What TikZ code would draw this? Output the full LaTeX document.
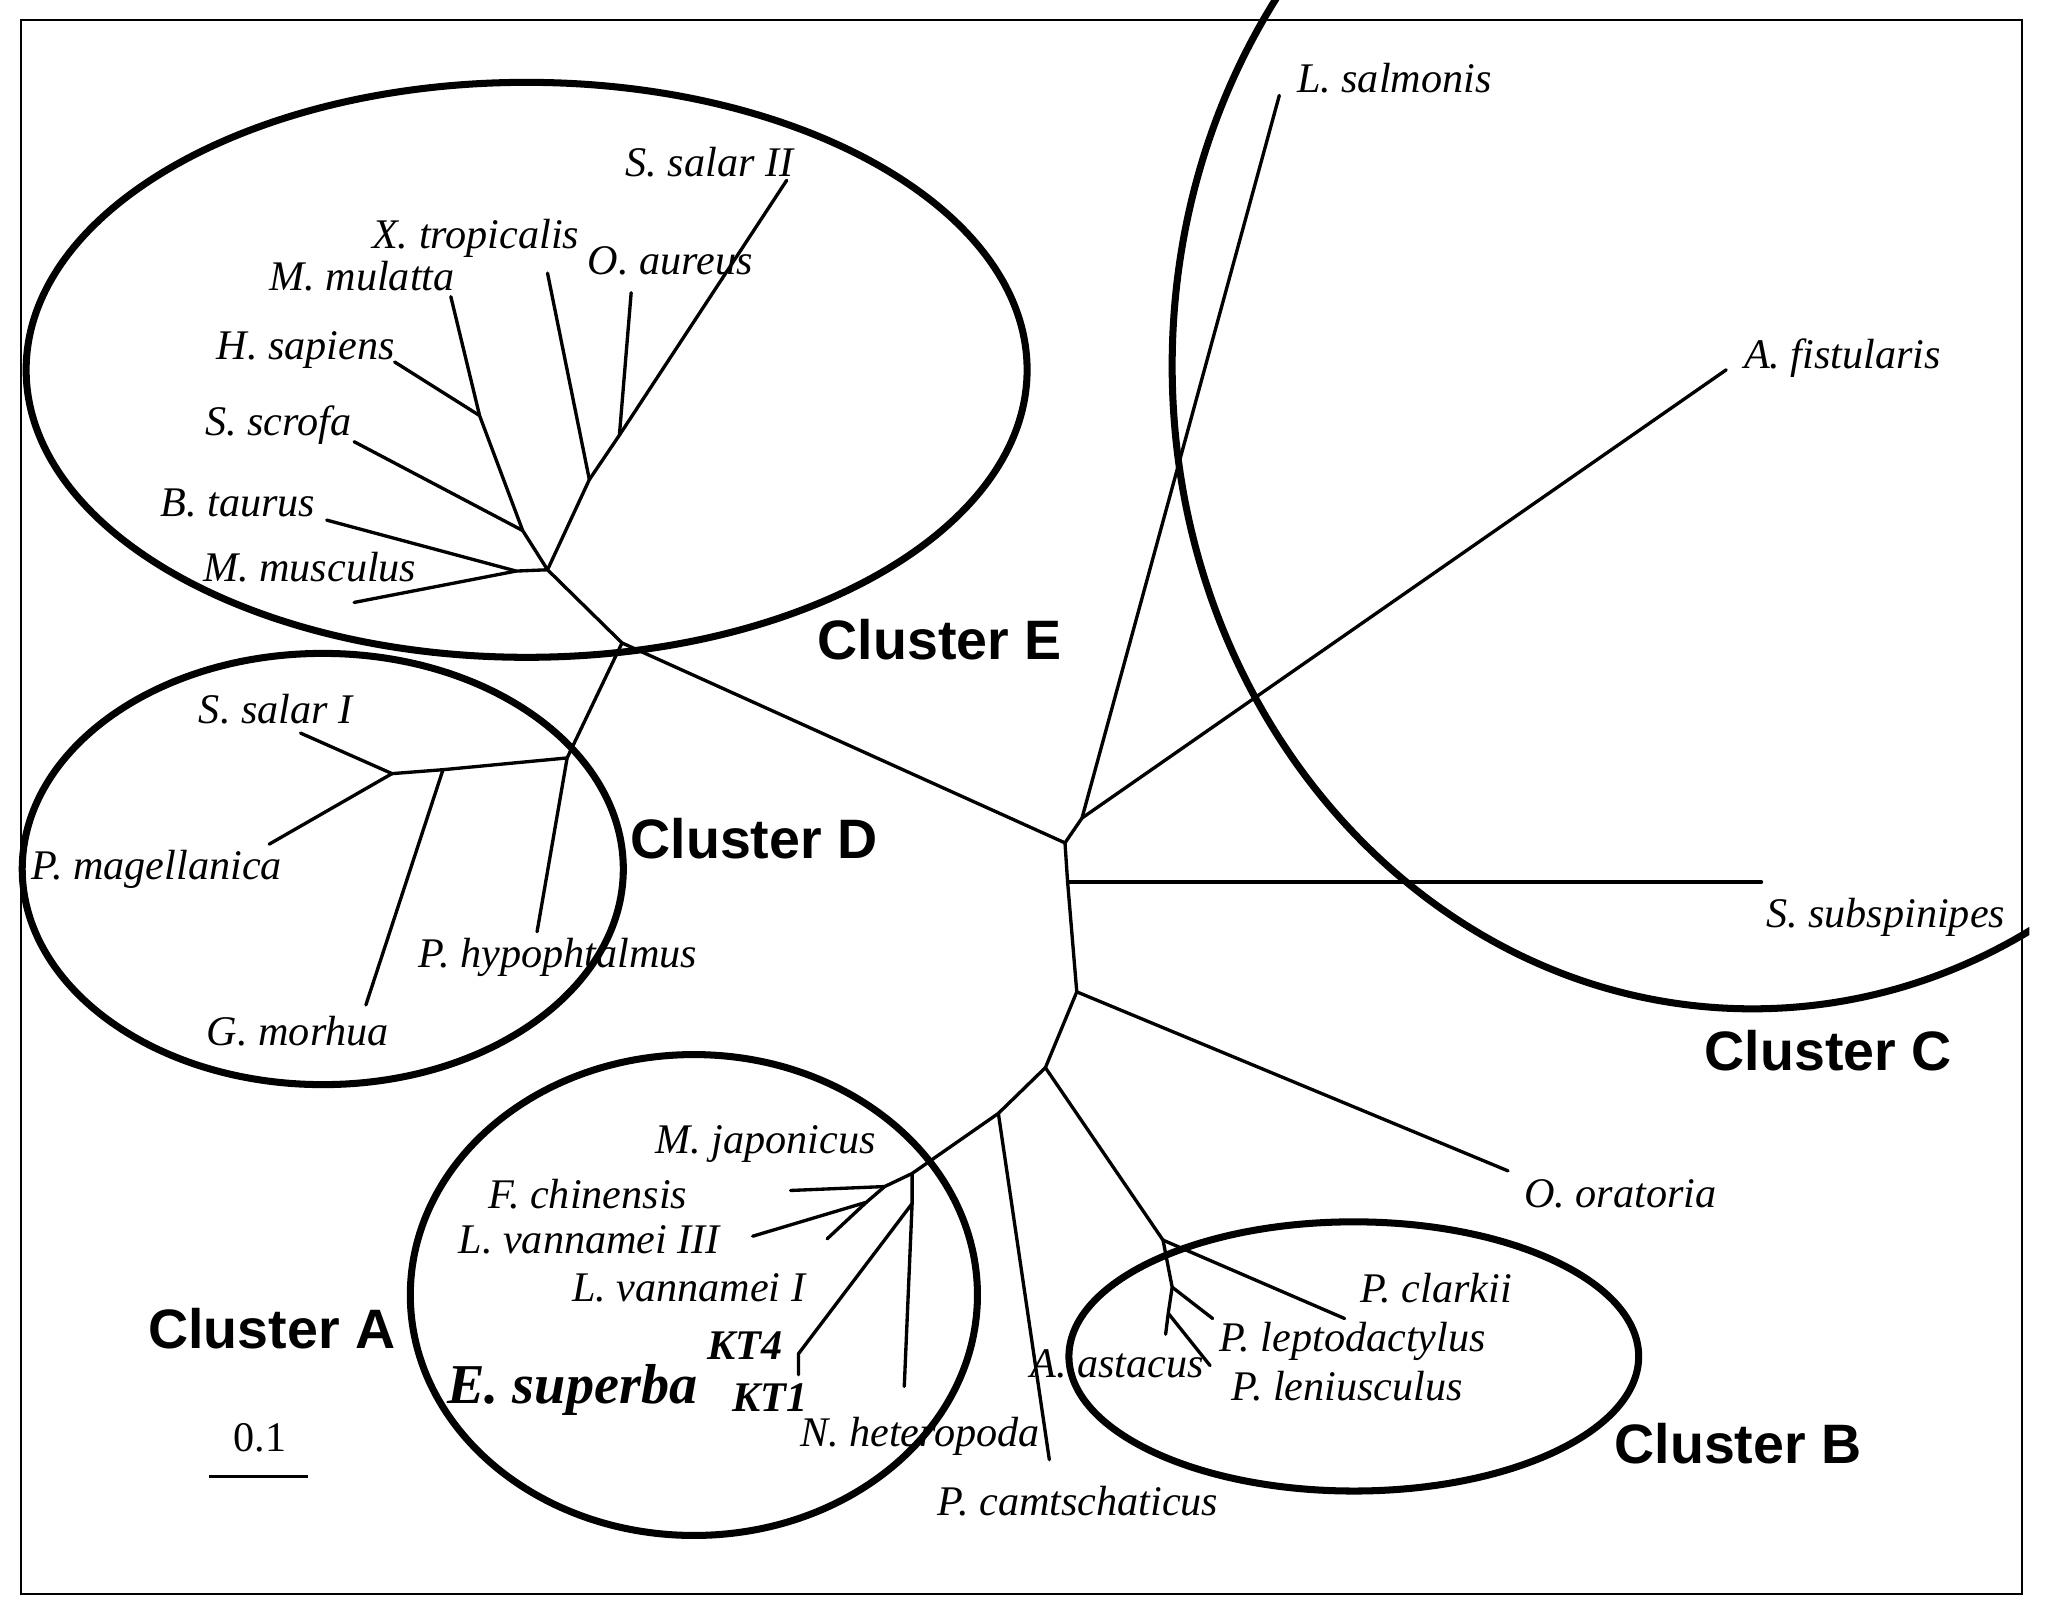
\documentclass[tikz,border=0pt]{standalone}
\usepackage{fontspec}
\setmainfont{Liberation Serif}
\setsansfont{Liberation Sans}

\tikzset{
  treeline/.style = {line width = 0.95pt, line cap = round, line join = round},
  clusterring/.style = {line width = 2pt},
  taxon/.style = {font = \fontsize{12}{14}\selectfont\itshape, inner sep = 0pt, anchor = base},
  clustername/.style = {font = \fontsize{15.8}{18}\selectfont\sffamily\bfseries, inner sep = 0pt, anchor = base},
}

\begin{document}
\begin{tikzpicture}[x = 0.013068cm, y = -0.013068cm]

      \useasboundingbox (0, 0) rectangle (1568, 1237);
      \draw[line width = 0.6pt] (16, 15) rectangle (1547, 1220);

      \draw[clusterring] (403, 283) ellipse [x radius = 383, y radius = 220];
      \draw[clusterring] (247, 665) ellipse [x radius = 230, y radius = 165];
      \draw[clusterring] (531, 991) ellipse [x radius = 217, y radius = 184];
      \draw[clusterring] (1036, 1038) ellipse [x radius = 218, y radius = 103];
      \begin{scope}
        \clip (0, 0) rectangle (1553, 1237);
        \draw[clusterring] (1341, 280) ellipse [x radius = 444, y radius = 492];
      \end{scope}

      \coordinate (X) at (476, 492);
      \coordinate (J1) at (815, 645);
      \coordinate (J2) at (828, 626);
      \coordinate (J3) at (817, 675);
      \coordinate (J4) at (824, 759);
      \coordinate (J5) at (800, 817);
      \coordinate (J6) at (764, 852);

      \coordinate (E0) at (419, 436);
      \coordinate (E1) at (400, 406);
      \coordinate (E2) at (367, 318);
      \coordinate (E3) at (451, 367);
      \coordinate (E4) at (474, 333);
      \coordinate (E5) at (395, 437);
      \coordinate (D1) at (434, 580);
      \coordinate (D2) at (339, 589);
      \coordinate (D3) at (300, 592);
      \coordinate (A1) at (698, 898);
      \coordinate (A2) at (698, 921);
      \coordinate (A3) at (677, 908);
      \coordinate (A4) at (663, 920);
      \coordinate (B1) at (890, 949);
      \coordinate (B2) at (897, 985);
      \coordinate (B3) at (894, 1005);

      \coordinate (SsalII) at (602, 138);
      \coordinate (Xtro) at (419, 209);
      \coordinate (Oaur) at (483, 224);
      \coordinate (Mmul) at (345, 227);
      \coordinate (Hsap) at (302, 277);
      \coordinate (Sscr) at (271, 338);
      \coordinate (Btau) at (250, 398);
      \coordinate (Mmus) at (271, 461);
      \coordinate (SsalI) at (230, 561);
      \coordinate (Pmag) at (206, 646);
      \coordinate (Gmor) at (280, 769);
      \coordinate (Phyp) at (411, 713);
      \coordinate (Lsal) at (979, 73);
      \coordinate (Afis) at (1321, 283);
      \coordinate (Ssub) at (1348, 675);
      \coordinate (Oora) at (1154, 896);
      \coordinate (Pcla) at (1029, 1009);
      \coordinate (Plep) at (928, 1009);
      \coordinate (Aast) at (892, 1021);
      \coordinate (Plen) at (926, 1045);
      \coordinate (Pcam) at (803, 1117);
      \coordinate (Fchi) at (605, 911);
      \coordinate (LvIII) at (576, 946);
      \coordinate (LvI) at (633, 948);
      \coordinate (KTfour) at (611, 1036);
      \coordinate (KTone) at (611, 1052);
      \coordinate (Nhet) at (692, 1061);

      \draw[treeline] (X) -- (J1) -- (J3) -- (J4) -- (J5) -- (J6) -- (A1) -- (A3) -- (A4) -- (LvIII);
      \draw[treeline] (J1) -- (J2) -- (Lsal);
      \draw[treeline] (J2) -- (Afis);
      \draw[treeline] (J3) -- (Ssub);
      \draw[treeline] (J4) -- (Oora);
      \draw[treeline] (J5) -- (B1) -- (B2) -- (B3) -- (Aast);
      \draw[treeline] (B1) -- (Pcla);
      \draw[treeline] (B2) -- (Plep);
      \draw[treeline] (B3) -- (Plen);
      \draw[treeline] (J6) -- (Pcam);
      \draw[treeline] (A1) -- (A2) -- (Nhet);
      \draw[treeline] (A2) -- (KTfour) -- (KTone);
      \draw[treeline] (A3) -- (Fchi);
      \draw[treeline] (A4) -- (LvI);

      \draw[treeline] (X) -- (E0) -- (E3) -- (E4) -- (SsalII);
      \draw[treeline] (E0) -- (E1) -- (E2) -- (Mmul);
      \draw[treeline] (E1) -- (Sscr);
      \draw[treeline] (E2) -- (Hsap);
      \draw[treeline] (E3) -- (Xtro);
      \draw[treeline] (E4) -- (Oaur);
      \draw[treeline] (E0) -- (E5) -- (Btau);
      \draw[treeline] (E5) -- (Mmus);

      \draw[treeline] (X) -- (D1) -- (Phyp);
      \draw[treeline] (D1) -- (D2) -- (D3) -- (SsalI);
      \draw[treeline] (D2) -- (Gmor);
      \draw[treeline] (D3) -- (Pmag);

      \node[taxon] (SsalII-name) at (543, 135) {S. salar II};
      \node[taxon] (Xtro-name) at (364, 190) {X. tropicalis};
      \node[taxon] (Oaur-name) at (513, 210) {O. aureus};
      \node[taxon] (Mmul-name) at (277, 222) {M. mulatta};
      \node[taxon] (Hsap-name) at (234, 275) {H. sapiens};
      \node[taxon] (Sscr-name) at (213, 333) {S. scrofa};
      \node[taxon] (Btau-name) at (182, 395) {B. taurus};
      \node[taxon] (Mmus-name) at (237, 445) {M. musculus};
      \node[taxon] (SsalI-name) at (211, 554) {S. salar I};
      \node[taxon] (Pmag-name) at (120, 673) {P. magellanica};
      \node[taxon] (Phyp-name) at (427, 740) {P. hypophtalmus};
      \node[taxon] (Gmor-name) at (228, 800) {G. morhua};
      \node[taxon] (Lsal-name) at (1067, 71) {L. salmonis};
      \node[taxon] (Afis-name) at (1410, 282) {A. fistularis};
      \node[taxon] (Ssub-name) at (1443, 710) {S. subspinipes};
      \node[taxon] (Oora-name) at (1240, 924) {O. oratoria};
      \node[taxon] (Pcla-name) at (1099, 997) {P. clarkii};
      \node[taxon] (Plep-name) at (1035, 1034) {P. leptodactylus};
      \node[taxon] (Plen-name) at (1031, 1072) {P. leniusculus};
      \node[taxon] (Aast-name) at (855, 1054) {A. astacus};
      \node[taxon] (Pcam-name) at (825, 1160) {P. camtschaticus};
      \node[taxon] (Mjap-name) at (586, 883) {M. japonicus};
      \node[taxon] (Fchi-name) at (450, 925) {F. chinensis};
      \node[taxon] (LvIII-name) at (451, 959) {L. vannamei III};
      \node[taxon] (LvI-name) at (527, 996) {L. vannamei I};
      \node[taxon] (Nhet-name) at (704, 1107) {N. heteropoda};
      \node[taxon, font = \fontsize{12}{14}\selectfont\bfseries\itshape] (KTfour-name) at (570, 1040) {KT4};
      \node[taxon, font = \fontsize{12}{14}\selectfont\bfseries\itshape] (KTone-name) at (589, 1080) {KT1};
      \node[taxon, font = \fontsize{16}{18}\selectfont\bfseries\itshape] (Esup-name) at (438, 1074) {E. superba};

      \node[clustername] (clusterE) at (719, 505) {Cluster E};
      \node[clustername] (clusterD) at (577, 657) {Cluster D};
      \node[clustername] (clusterC) at (1399, 819) {Cluster C};
      \node[clustername] (clusterA) at (208, 1032) {Cluster A};
      \node[clustername] (clusterB) at (1330, 1120) {Cluster B};

      \coordinate (bar-l) at (160, 1130);
      \coordinate (bar-r) at (236, 1130);
      \draw[line width = 1pt] (bar-l) -- (bar-r);
      \node[taxon, font = \fontsize{12}{14}\selectfont] (bar-name) at (199, 1111) {0.1};

    \end{tikzpicture}
\end{document}
